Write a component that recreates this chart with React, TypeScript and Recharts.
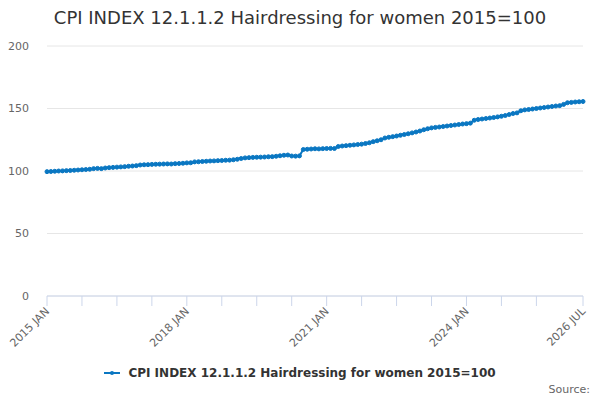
import { CartesianGrid, Line, LineChart, XAxis, YAxis } from "recharts";

const title = "CPI INDEX 12.1.1.2 Hairdressing for women 2015=100";
const seriesName = "CPI INDEX 12.1.1.2 Hairdressing for women 2015=100";

const years = [2015, 2016, 2017, 2018, 2019, 2020, 2021, 2022, 2023, 2024, 2025, 2026];
const monthNames = ["JAN", "FEB", "MAR", "APR", "MAY", "JUN", "JUL", "AUG", "SEP", "OCT", "NOV", "DEC"];

// monthly index values, one array per year
const v2015 = [99.5, 99.6, 99.8, 100.0, 100.1, 100.3, 100.4, 100.6, 100.8, 101.0, 101.2, 101.4];
const v2016 = [101.9, 102.1, 101.9, 102.4, 102.7, 102.9, 103.1, 103.3, 103.5, 103.8, 104.0, 104.3];
const v2017 = [104.8, 105.0, 105.1, 105.3, 105.4, 105.5, 105.6, 105.7, 105.6, 105.9, 106.0, 106.2];
const v2018 = [106.5, 106.6, 107.3, 107.4, 107.6, 107.8, 108.0, 108.1, 108.3, 108.4, 108.6, 108.7];
const v2019 = [109.0, 109.4, 110.0, 110.5, 110.7, 110.9, 111.0, 111.1, 111.2, 111.4, 111.5, 111.8];
const v2020 = [112.2, 112.6, 112.8, 112.0, 111.9, 112.1, 117.2, 117.4, 117.6, 117.8, 117.7, 117.9];
const v2021 = [118.0, 118.1, 118.0, 119.6, 120.0, 120.3, 120.6, 120.9, 121.2, 121.5, 122.0, 122.6];
const v2022 = [123.5, 124.2, 125.0, 126.4, 127.0, 127.5, 128.0, 128.6, 129.2, 129.8, 130.5, 131.2];
const v2023 = [132.0, 133.0, 133.8, 134.5, 134.9, 135.2, 135.6, 136.0, 136.4, 136.8, 137.2, 137.6];
const v2024 = [137.9, 138.3, 140.6, 141.2, 141.6, 142.0, 142.4, 142.8, 143.3, 143.8, 144.4, 145.2];
const v2025 = [146.0, 146.5, 148.2, 148.9, 149.2, 149.6, 150.0, 150.4, 150.8, 151.2, 151.6, 152.0];
const v2026 = [152.3, 153.3, 154.6, 154.9, 155.2, 155.4, 155.6];

const values = [
  ...v2015, ...v2016, ...v2017, ...v2018, ...v2019, ...v2020,
  ...v2021, ...v2022, ...v2023, ...v2024, ...v2025, ...v2026,
];

const months = years
  .flatMap((y) => monthNames.map((m) => `${y} ${m}`))
  .slice(0, values.length);

const xTicks = [0, 9, 18, 27, 36, 45, 54, 63, 72, 81, 90, 99, 108, 117, 126, 138];
const shownLabels = ["2015 JAN", "2018 JAN", "2021 JAN", "2024 JAN", "2026 JUL"];
const yTicks = [0, 50, 100, 150, 200];

const data = values.map((v, i) => ({ idx: i, label: months[i], value: v }));

const lineColor = "#0a77c2";

const XTick = (props: any) => {
  const { x, y, payload } = props;
  const label = months[payload.value];
  if (!shownLabels.includes(label)) return null;
  const tx = x + 3;
  const ty = y + 4;
  return (
    <text
      x={tx}
      y={ty}
      transform={`rotate(-45 ${tx} ${ty})`}
      textAnchor="end"
      fill="#666666"
      fontSize={11}
    >
      {label}
    </text>
  );
};

export default function App() {
  return (
    <div
      style={{
        position: "absolute",
        left: 0,
        top: 0,
        width: 600,
        height: 400,
        fontFamily: "'DejaVu Sans', sans-serif",
        background: "#fff",
      }}
    >
      <div
        style={{
          position: "absolute",
          top: 7,
          width: 600,
          textAlign: "center",
          fontSize: 18,
          color: "#333333",
        }}
      >
        {title}
      </div>
      <LineChart
        width={600}
        height={400}
        data={data}
        margin={{ top: 46, right: 17, left: 0, bottom: 44 }}
      >
        <CartesianGrid vertical={false} stroke="#e6e6e6" />
        <XAxis
          dataKey="idx"
          type="number"
          domain={[0, values.length - 1]}
          ticks={xTicks}
          interval={0}
          height={60}
          tickSize={10}
          tickMargin={2}
          axisLine={{ stroke: "#ccd6eb" }}
          tickLine={{ stroke: "#ccd6eb" }}
          tick={<XTick />}
        />
        <YAxis
          width={47}
          domain={[0, 200]}
          ticks={yTicks}
          axisLine={false}
          tickLine={false}
          tickSize={0}
          tickMargin={18}
          tick={{ fill: "#666666", fontSize: 11 }}
        />
        <Line
          type="linear"
          dataKey="value"
          name={seriesName}
          stroke={lineColor}
          strokeWidth={2}
          dot={{ r: 2, fill: lineColor, stroke: lineColor, strokeWidth: 1 }}
          activeDot={false}
          isAnimationActive={false}
        />
      </LineChart>
      <div
        style={{
          position: "absolute",
          top: 366,
          width: 600,
          display: "flex",
          justifyContent: "center",
          alignItems: "center",
          fontSize: 12,
          fontWeight: "bold",
          color: "#333333",
        }}
      >
        <svg width={21} height={12} style={{ marginRight: 3 }}>
          <line x1={0} y1={6} x2={16} y2={6} stroke={lineColor} strokeWidth={2} />
          <circle cx={8} cy={6} r={2} fill={lineColor} />
        </svg>
        <span>{seriesName}</span>
      </div>
      <div
        style={{
          position: "absolute",
          top: 383,
          right: 10,
          fontSize: 11,
          color: "#666666",
        }}
      >
        Source:
      </div>
    </div>
  );
}
